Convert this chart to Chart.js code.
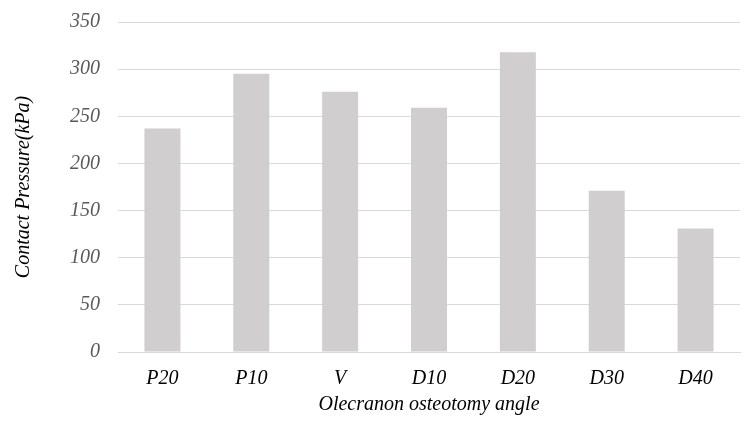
<!DOCTYPE html>
<html>
<head>
<meta charset="utf-8">
<script src="https://cdn.jsdelivr.net/npm/chart.js@4"></script>
<style>
  html, body { margin: 0; padding: 0; background: #fff; }
  #wrap { width: 750px; height: 432px; }
</style>
</head>
<body>
<div id="wrap"><canvas id="mainChart"></canvas></div>
<script>
const categories = ['P20', 'P10', 'V', 'D10', 'D20', 'D30', 'D40'];
const pressureValues = [237, 295, 276, 259, 318, 171, 131];
const yTicks = [0, 50, 100, 150, 200, 250, 300, 350];

const serif = "'Liberation Serif', 'Times New Roman', serif";

const ctx = document.getElementById('mainChart').getContext('2d');
new Chart(ctx, {
    type: 'bar',
    data: {
        labels: categories,
        datasets: [{
            data: pressureValues,
            backgroundColor: '#d0cece',
            borderWidth: 0,
            barPercentage: 0.405,
            categoryPercentage: 1
        }]
    },
    options: {
        responsive: true,
        maintainAspectRatio: false,
        animation: false,
        layout: { padding: { top: 22, right: 10, left: 12, bottom: 6 } },
        plugins: { legend: { display: false }, tooltip: { enabled: false } },
        scales: {
            x: {
                grid: { display: false },
                border: { color: '#d9d9d9', width: 1 },
                ticks: {
                    color: '#000',
                    font: { family: serif, size: 20, style: 'italic' },
                    padding: 7
                },
                title: {
                    display: true,
                    text: 'Olecranon osteotomy angle',
                    color: '#000',
                    font: { family: serif, size: 20, style: 'italic' },
                    padding: { top: -5, bottom: 9 }
                }
            },
            y: {
                min: 0,
                max: 350,
                afterBuildTicks: axis => { axis.ticks = yTicks.map(v => ({ value: v })); },
                afterFit: axis => { axis.paddingTop = 0; },
                grid: { color: '#d9d9d9', drawTicks: false },
                border: { display: false },
                ticks: {
                    color: '#595959',
                    font: { family: serif, size: 20, style: 'italic' },
                    padding: 18
                },
                title: {
                    display: true,
                    text: 'Contact Pressure(kPa)',
                    color: '#000',
                    font: { family: serif, size: 20, style: 'italic' },
                    padding: { top: 0, bottom: 16 }
                }
            }
        }
    }
});
</script>
</body>
</html>
